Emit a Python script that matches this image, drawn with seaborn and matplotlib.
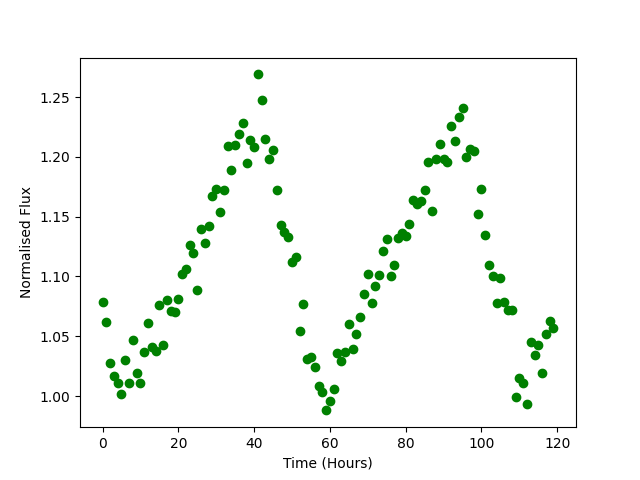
import matplotlib
matplotlib.use("Agg")
import matplotlib.pyplot as plt
import seaborn as sns
import numpy as np
import pandas as pd

hours = list(range(120))
flux = [1.079, 1.062, 1.028, 1.017, 1.011, 1.002, 1.030, 1.011, 1.047, 1.019,
        1.011, 1.037, 1.061, 1.041, 1.038, 1.076, 1.043, 1.080, 1.071, 1.070,
        1.081, 1.102, 1.106, 1.126, 1.120, 1.089, 1.140, 1.128, 1.142, 1.167,
        1.173, 1.154, 1.172, 1.209, 1.189, 1.210, 1.219, 1.228, 1.195, 1.214,
        1.208, 1.269, 1.248, 1.215, 1.198, 1.206, 1.172, 1.143, 1.137, 1.133,
        1.112, 1.116, 1.054, 1.077, 1.031, 1.033, 1.024, 1.008, 1.003, 0.988,
        0.996, 1.006, 1.036, 1.029, 1.037, 1.060, 1.039, 1.052, 1.066, 1.085,
        1.102, 1.078, 1.092, 1.101, 1.121, 1.131, 1.100, 1.110, 1.132, 1.136,
        1.134, 1.144, 1.164, 1.161, 1.163, 1.172, 1.196, 1.155, 1.198, 1.211,
        1.198, 1.196, 1.226, 1.213, 1.233, 1.241, 1.200, 1.207, 1.205, 1.152,
        1.173, 1.135, 1.110, 1.100, 1.078, 1.099, 1.079, 1.072, 1.072, 0.999,
        1.015, 1.011, 0.993, 1.045, 1.034, 1.043, 1.019, 1.052, 1.063, 1.057]

df = pd.DataFrame({"Time (Hours)": hours, "Normalised Flux": flux})

fig, ax = plt.subplots(figsize=(6.4, 4.8), dpi=100)
sns.scatterplot(data=df, x="Time (Hours)", y="Normalised Flux", ax=ax,
                color="green", edgecolor="green", linewidth=1, s=36, zorder=3)
ax.set_xlabel("Time (Hours)")
ax.set_ylabel("Normalised Flux")
fig.savefig("out.png", dpi=100)
